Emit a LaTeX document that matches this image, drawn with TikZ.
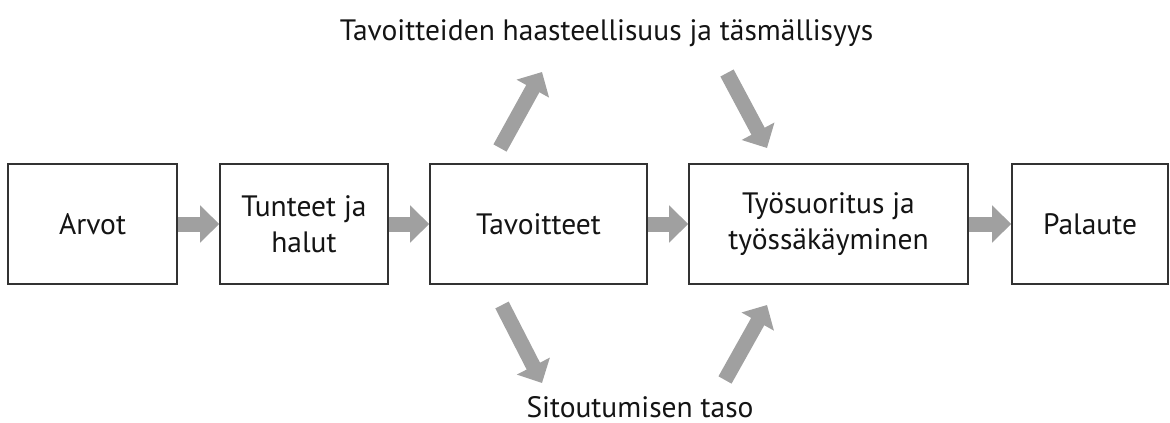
\documentclass[tikz,border=0pt]{standalone}
\usepackage{fontspec}
\setmainfont{PT Sans}
\usetikzlibrary{arrows.meta}
\definecolor{arrowgray}{RGB}{160,160,160}
\definecolor{boxline}{RGB}{50,50,50}
\definecolor{txt}{RGB}{20,20,20}
\tikzset{
  box/.style={draw=boxline, line width=1.6pt, minimum height=120pt, inner sep=0pt, align=center, text=txt,
    font=\fontsize{29.5}{36}\selectfont},
  fat/.style={draw=arrowgray, line width=15pt, line cap=butt,
    -{Triangle[width=36pt,length=19pt]}},
  lbl/.style={text=txt, font=\fontsize{29.5}{36}\selectfont, inner sep=0pt}
}
\begin{document}
\begin{tikzpicture}[x=1pt,y=-1pt]
\useasboundingbox (0,0) rectangle (1170,423);
\node[box, minimum width=169pt] (arvot) at (92.5,224) {Arvot};
\node[box, minimum width=168pt] (tunteet) at (304,224) {Tunteet ja\\halut};
\node[box, minimum width=217pt] (tav) at (538.5,224) {Tavoitteet};
\node[box, minimum width=279pt] (tyo) at (828.5,224) {Työsuoritus ja\\työssäkäyminen};
\node[box, minimum width=156pt] (pal) at (1090,224) {Palaute};
\node[lbl, anchor=base] (haaste) at (606.5,40) {Tavoitteiden haasteellisuus ja täsmällisyys};
\node[lbl, anchor=base] (sitou) at (640,417) {Sitoutumisen taso};
\draw[fat] (arvot.east) -- (tunteet.west);
\draw[fat] (tunteet.east) -- (tav.west);
\draw[fat] (tav.east) -- (tyo.west);
\draw[fat] (tyo.east) -- (pal.west);
\coordinate (tl0) at (500,148); \coordinate (tl1) at (542,72);
\coordinate (tr0) at (727,73);  \coordinate (tr1) at (767,148);
\coordinate (bl0) at (502,305); \coordinate (bl1) at (542,383);
\coordinate (br0) at (725,380); \coordinate (br1) at (767,305);
\draw[fat] (tl0) -- (tl1);
\draw[fat] (tr0) -- (tr1);
\draw[fat] (bl0) -- (bl1);
\draw[fat] (br0) -- (br1);
\end{tikzpicture}
\end{document}
